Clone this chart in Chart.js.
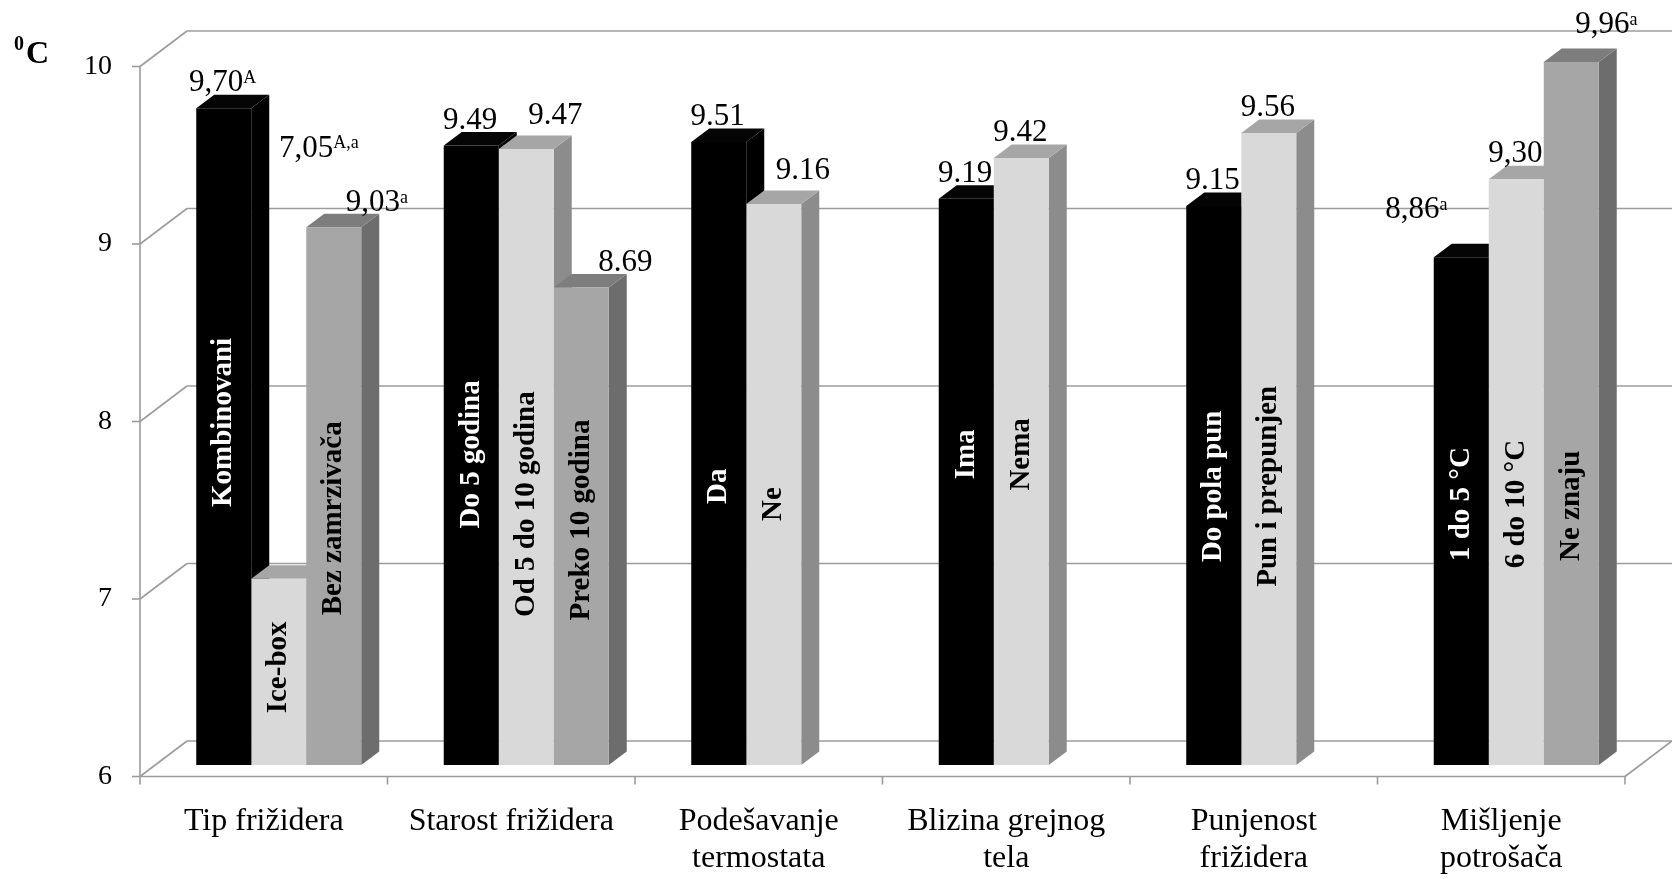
<!DOCTYPE html>
<html>
<head>
<meta charset="utf-8">
<title>Temperatura u frižideru</title>
<script src="https://cdn.jsdelivr.net/npm/chart.js@4/dist/chart.umd.min.js"></script>
<style>
  html, body { margin: 0; padding: 0; background: #ffffff; }
  #wrap { width: 1672px; height: 879px; }
</style>
</head>
<body>
<div id="wrap"><canvas id="chart" width="1672" height="879"></canvas></div>
<script>
// ---- data ----
const categories = [
  ['Tip frižidera'],
  ['Starost frižidera'],
  ['Podešavanje', 'termostata'],
  ['Blizina grejnog', 'tela'],
  ['Punjenost', 'frižidera'],
  ['Mišljenje', 'potrošača']
];
const seriesA = [9.70, 9.49, 9.51, 9.19, 9.15, 8.86];
const seriesB = [7.05, 9.47, 9.16, 9.42, 9.56, 9.30];
const seriesC = [9.03, 8.69, null, null, null, 9.96];

const namesA = ['Kombinovani', 'Do 5 godina', 'Da', 'Ima', 'Do pola pun', '1 do 5 °C'];
const namesB = ['Ice-box', 'Od 5 do 10 godina', 'Ne', 'Nema', 'Pun i prepunjen', '6 do 10 °C'];
const namesC = ['Bez zamrzivača', 'Preko 10 godina', null, null, null, 'Ne znaju'];

// significance letters written after the value
const supA = ['A', '', '', '', '', 'a'];
const supB = ['A,a', '', '', '', '', ''];
const supC = ['a', '', null, null, null, 'a'];
// decimal mark used in each group's value labels
const decimalMark = [',', '.', '.', '.', '.', ','];

const yMin = 6, yMax = 10, yStep = 1;
const unitMain = 'C', unitSup = '0';

// ---- layout of the text placed on / above the bars ----
// where along the value axis each rotated name is centred
const nameAnchorA = [7.93, 7.75, 7.57, 7.75, 7.57, 7.47];
const nameAnchorB = [6.55, 7.47, 7.47, 7.75, 7.57, 7.47];
const nameAnchorC = [7.39, 7.38, null, null, null, 7.46];
// pixel nudges of the value labels from their default spot above the bar
const nudgeA = [[0, 0], [0, 0], [0, 0], [0, 0], [0, 0], [-44, -22]];
const nudgeB = [[41, -405], [30, -8], [30, -8], [0, 0], [0, 0], [0, 0]];
const nudgeC = [[44, 1], [45, 0], null, null, null, [36, -12]];

// ---- styling ----
const FONT = '"Liberation Serif", "Times New Roman", serif';
const frontColors = ['#000000', '#d9d9d9', '#a6a6a6'];
const topColors   = ['#050505', '#a6a6a6', '#7d7d7d'];
const sideColors  = ['#000000', '#8c8c8c', '#6d6d6d'];
const nameColors  = ['#ffffff', '#000000', '#000000'];
const GRID = '#9c9c9c';
const VALUE_SIZE = 31, SUP_SIZE = 18;
const DEPTH = { dx: 18, dy: -13.5 };   // depth of each bar
const FRONT = { dx: -15, dy: 11.5 };   // bar face -> front edge of the floor
const BACK  = { dx: 32, dy: -24 };     // bar face -> back wall

const seriesList = [seriesA, seriesB, seriesC];
const namesList = [namesA, namesB, namesC];
const supList = [supA, supB, supC];
const anchorList = [nameAnchorA, nameAnchorB, nameAnchorC];
const nudgeList = [nudgeA, nudgeB, nudgeC];

Chart.defaults.font.family = FONT;
Chart.defaults.color = '#000000';

function line(ctx, x1, y1, x2, y2) {
  ctx.beginPath();
  ctx.moveTo(x1, y1);
  ctx.lineTo(x2, y2);
  ctx.stroke();
}
function poly(ctx, pts, color) {
  ctx.beginPath();
  ctx.moveTo(pts[0][0], pts[0][1]);
  for (let k = 1; k < pts.length; k++) ctx.lineTo(pts[k][0], pts[k][1]);
  ctx.closePath();
  ctx.fillStyle = color;
  ctx.fill();
}

const box3d = {
  id: 'box3d',
  beforeDatasetsDraw(chart) {
    const ctx = chart.ctx;
    const a = chart.chartArea;
    const ys = chart.scales.y, xs = chart.scales.x;
    const y0 = ys.getPixelForValue(ys.min);
    const yTop = ys.getPixelForValue(ys.max);
    ctx.save();
    ctx.strokeStyle = GRID;
    ctx.lineWidth = 1.6;
    // side wall edges, back wall lines and tick marks
    ys.ticks.forEach(t => {
      const y = ys.getPixelForValue(t.value);
      line(ctx, a.left + FRONT.dx, y + FRONT.dy, a.left + BACK.dx, y + BACK.dy);
      line(ctx, a.left + BACK.dx, y + BACK.dy, a.right + BACK.dx, y + BACK.dy);
      line(ctx, a.left + FRONT.dx - 8, y + FRONT.dy, a.left + FRONT.dx, y + FRONT.dy);
    });
    // floor
    line(ctx, a.left + FRONT.dx, y0 + FRONT.dy, a.right + FRONT.dx, y0 + FRONT.dy);
    line(ctx, a.right + FRONT.dx, y0 + FRONT.dy, a.right + BACK.dx, y0 + BACK.dy);
    // value axis
    line(ctx, a.left + FRONT.dx, yTop + FRONT.dy, a.left + FRONT.dx, y0 + FRONT.dy);
    // category separators
    const n = xs.getLabels().length;
    for (let i = 0; i <= n; i++) {
      const x = xs.left + i * xs.width / n + FRONT.dx;
      line(ctx, x, y0 + FRONT.dy, x, y0 + FRONT.dy + 8);
    }
    // top and side faces, painted left to right so nearer faces cover farther ones
    for (let j = 0; j < n; j++) {
      for (let i = 0; i < seriesList.length; i++) {
        if (seriesList[i][j] == null) continue;
        const el = chart.getDatasetMeta(i).data[j];
        const p = el.getProps(['x', 'y', 'base', 'width'], true);
        const base = Math.min(p.base, y0);
        const l = p.x - p.width / 2, r = p.x + p.width / 2, y = p.y;
        poly(ctx, [[r, y], [r + DEPTH.dx, y + DEPTH.dy], [r + DEPTH.dx, base + DEPTH.dy], [r, base]], sideColors[i]);
        poly(ctx, [[l, y], [r, y], [r + DEPTH.dx, y + DEPTH.dy], [l + DEPTH.dx, y + DEPTH.dy]], topColors[i]);
      }
    }
    ctx.restore();
  },
  afterDatasetsDraw(chart) {
    const ctx = chart.ctx;
    const ys = chart.scales.y;
    ctx.save();
    for (let i = 0; i < seriesList.length; i++) {
      const meta = chart.getDatasetMeta(i);
      seriesList[i].forEach((v, j) => {
        if (v == null) return;
        const { x, y } = meta.data[j].getProps(['x', 'y'], true);
        // rotated name inside the bar
        const name = namesList[i][j];
        if (name) {
          ctx.save();
          ctx.translate(x, ys.getPixelForValue(anchorList[i][j]));
          ctx.rotate(-Math.PI / 2);
          ctx.font = 'bold 29px ' + FONT;
          ctx.fillStyle = nameColors[i];
          ctx.textAlign = 'center';
          ctx.textBaseline = 'middle';
          ctx.fillText(name, 0, 0);
          ctx.restore();
        }
        // value label with its letters
        const main = v.toFixed(2).replace('.', decimalMark[j]);
        const sup = supList[i][j] || '';
        ctx.font = VALUE_SIZE + 'px ' + FONT;
        const mw = ctx.measureText(main).width;
        ctx.font = SUP_SIZE + 'px ' + FONT;
        const sw = sup ? ctx.measureText(sup).width : 0;
        const nd = nudgeList[i][j] || [0, 0];
        const cx = x - 1 + nd[0];
        const cy = y - 27.5 + nd[1];
        const left = cx - (mw + sw) / 2;
        ctx.fillStyle = '#000000';
        ctx.textAlign = 'left';
        ctx.textBaseline = 'alphabetic';
        ctx.font = VALUE_SIZE + 'px ' + FONT;
        ctx.fillText(main, left, cy + 0.338 * VALUE_SIZE);
        if (sup) {
          ctx.font = SUP_SIZE + 'px ' + FONT;
          ctx.fillText(sup, left + mw, cy + 2);
        }
      });
    }
    // unit of the value axis
    ctx.fillStyle = '#000000';
    ctx.textAlign = 'left';
    ctx.textBaseline = 'alphabetic';
    ctx.font = 'bold 20px ' + FONT;
    ctx.fillText(unitSup, 14, 50);
    ctx.font = 'bold 32px ' + FONT;
    ctx.fillText(unitMain, 26, 63);
    ctx.restore();
  }
};

new Chart(document.getElementById('chart'), {
  type: 'bar',
  data: {
    labels: categories,
    datasets: seriesList.map((s, i) => ({
      data: s,
      backgroundColor: frontColors[i],
      borderWidth: 0
    }))
  },
  options: {
    responsive: false,
    animation: false,
    devicePixelRatio: 1,
    layout: { padding: { top: 55, right: 32, left: 0, bottom: 0 } },
    datasets: { bar: { categoryPercentage: 0.6667, barPercentage: 1 } },
    plugins: { legend: { display: false }, tooltip: { enabled: false } },
    scales: {
      x: {
        grid: { display: false, drawTicks: false },
        border: { display: false },
        ticks: {
          font: { size: 32, lineHeight: 1.15 },
          color: '#000000',
          padding: 38.5,
          labelOffset: FRONT.dx,
          maxRotation: 0,
          autoSkip: false
        },
        afterFit(s) { s.height = 114; }
      },
      y: {
        min: yMin,
        max: yMax,
        // the tick length only spaces the labels away from the axis; marks are hidden
        grid: { display: false, drawTicks: true, tickLength: 43 },
        border: { display: false },
        ticks: {
          stepSize: yStep,
          font: { size: 28 },
          color: '#000000',
          padding: 0,
          labelOffset: FRONT.dy
        },
        afterFit(s) { s.width = 155; }
      }
    }
  },
  plugins: [box3d]
});
</script>
</body>
</html>
